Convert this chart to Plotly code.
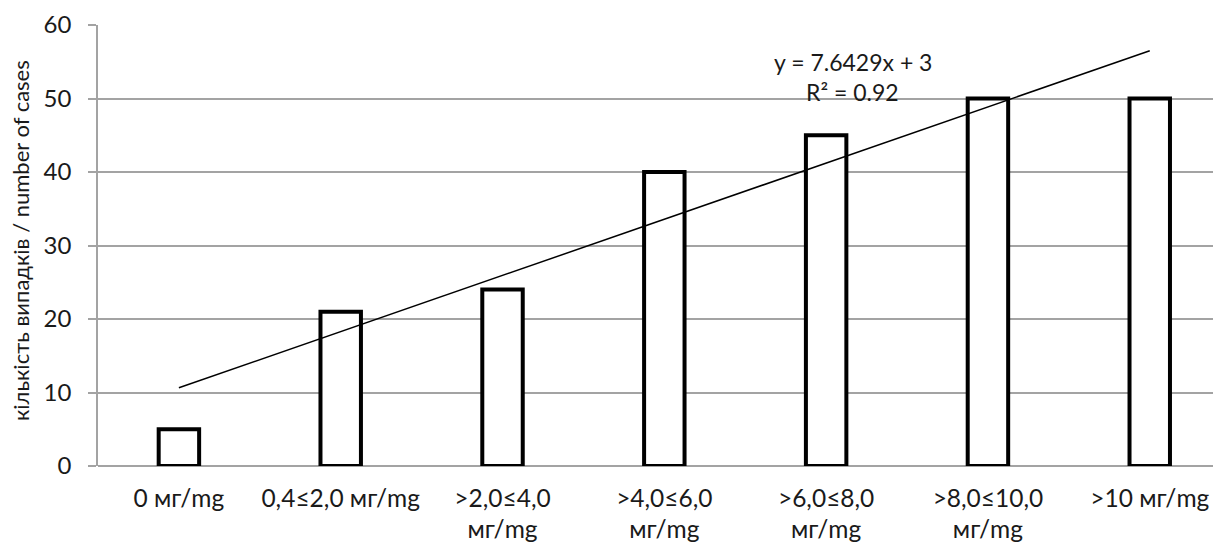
import plotly.graph_objects as go

categories = ["0 мг/mg", "0,4≤2,0 мг/mg", ">2,0≤4,0<br>мг/mg", ">4,0≤6,0<br>мг/mg",
              ">6,0≤8,0<br>мг/mg", ">8,0≤10,0<br>мг/mg", ">10 мг/mg"]
cases = [5, 21, 24, 40, 45, 50, 50]
slope = 7.6429
intercept = 3
r2 = 0.92
y_ticks = [0, 10, 20, 30, 40, 50, 60]
y_title = "кількість випадків / number of cases"

FONT = "Lato"
GRID = "#a3a3a3"
TXT = "#1a1a1a"

ML, MR, MT, MB = 90, 10, 17, 88
W, H = 1221, 546
plot_w = W - ML - MR

trend_x = [categories[0], categories[-1]]
trend_y = [slope * 1 + intercept, slope * len(categories) + intercept]

fig = go.Figure()
fig.add_trace(go.Bar(
    x=categories, y=cases, width=0.25,
    marker=dict(color="white", line=dict(color="black", width=4)),
    showlegend=False,
))
fig.add_trace(go.Scatter(
    x=trend_x, y=trend_y, mode="lines",
    line=dict(color="black", width=1.5), showlegend=False,
))

fig.add_annotation(x=4.165, y=55.0, xref="x", yref="y", showarrow=False,
                   text=f"y = {slope}x + {intercept}",
                   font=dict(family=FONT, size=23, color=TXT), yanchor="middle")
fig.add_annotation(x=4.165, y=50.9, xref="x", yref="y", showarrow=False,
                   text=f"R² = {r2}",
                   font=dict(family=FONT, size=23, color=TXT), yanchor="middle")
fig.add_annotation(x=(12 - ML) / plot_w, y=0.51, xref="paper", yref="paper", showarrow=False,
                   text=y_title, textangle=-90, xanchor="center", yanchor="middle",
                   font=dict(family=FONT, size=22, color=TXT))

fig.update_layout(
    width=W, height=H,
    margin=dict(l=ML, r=MR, t=MT, b=MB),
    plot_bgcolor="white", paper_bgcolor="white",
    font=dict(family=FONT, size=18, color=TXT),
    xaxis=dict(
        range=[-0.5, 6.428], showgrid=False, showline=False, ticks="",
        tickfont=dict(size=24.5), zeroline=False, automargin=False,
        ticklabelstandoff=15,
    ),
    yaxis=dict(
        range=[0, 60], tickvals=y_ticks, showgrid=True, gridcolor=GRID, gridwidth=1.5,
        showline=True, linecolor=GRID, linewidth=1.5,
        ticks="outside", ticklen=8, tickcolor=GRID, tickwidth=1.5,
        zeroline=True, zerolinecolor=GRID, zerolinewidth=1.5,
        tickfont=dict(size=24), automargin=False, ticklabelstandoff=12,
    ),
)

fig.write_html("out.html")
